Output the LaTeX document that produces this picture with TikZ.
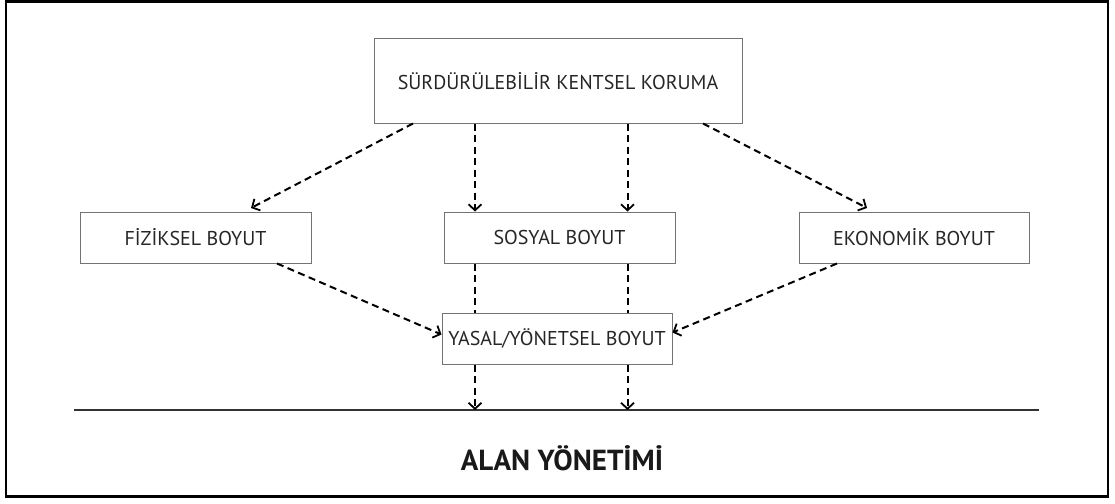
\documentclass[tikz,border=0pt]{standalone}
\usepackage{fontspec}
\setmainfont{PT Sans}
\usetikzlibrary{arrows.meta}
\begin{document}
\begin{tikzpicture}[x=1pt,y=-1pt,
  box/.style={draw=black!55,line width=1pt,inner sep=0pt,font=\fontsize{20}{24}\selectfont,text=black!85},
  dasharrow/.style={line width=2pt,dash pattern=on 7pt off 4.5pt,-{Straight Barb[length=6pt,width=13pt,line width=1.8pt]}},
  dashline/.style={line width=2pt,dash pattern=on 7pt off 4.5pt}]
\useasboundingbox (0,0) rectangle (1115,503);
\draw[line width=2.8pt] (6,1.5) rectangle (1108,496.5);
% boxes
\node[box,minimum width=368pt,minimum height=84pt] (top) at (558,81) {SÜRDÜRÜLEBİLİR KENTSEL KORUMA};
\node[box,minimum width=231pt,minimum height=51pt] (fiz) at (195.5,237.5) {FİZİKSEL BOYUT};
\node[box,minimum width=231pt,minimum height=51pt] (sos) at (559.5,237.5) {SOSYAL BOYUT};
\node[box,minimum width=230pt,minimum height=51pt] (eko) at (914,237.5) {EKONOMİK BOYUT};
\node[box,minimum width=230pt,minimum height=51pt] (yas) at (557,338.5) {YASAL/YÖNETSEL BOYUT};
% bottom line
\coordinate (bl) at (74,410);
\coordinate (br) at (1039,410);
\draw[line width=2.2pt,draw=black!80] (bl) -- (br);
\node[font=\fontsize{29}{34}\selectfont\bfseries,text=black!90] (alan) at (562,458) {ALAN YÖNETİMİ};
% vertical guides
\coordinate (xa) at (475,0);
\coordinate (xb) at (627.5,0);
% arrows from top
\draw[dasharrow] (top.south -| 413,0) -- (251,208);
\draw[dasharrow] (top.south -| 703,0) -- (867,208);
\draw[dasharrow] (top.south -| xa) -- (sos.north -| xa);
\draw[dasharrow] (top.south -| xb) -- (sos.north -| xb);
% sosyal to yasal
\draw[dashline] (sos.south -| xa) -- (yas.north -| xa);
\draw[dashline] (sos.south -| xb) -- (yas.north -| xb);
% fiziksel/ekonomik to yasal
\draw[dasharrow] (fiz.south -| 277,0) -- ([yshift=4pt]yas.west);
\draw[dasharrow] (eko.south -| 837,0) -- ([yshift=6pt]yas.east);
% yasal to line
\draw[dasharrow] (yas.south -| xa) -- (bl -| xa);
\draw[dasharrow] (yas.south -| xb) -- (bl -| xb);
\end{tikzpicture}
\end{document}
